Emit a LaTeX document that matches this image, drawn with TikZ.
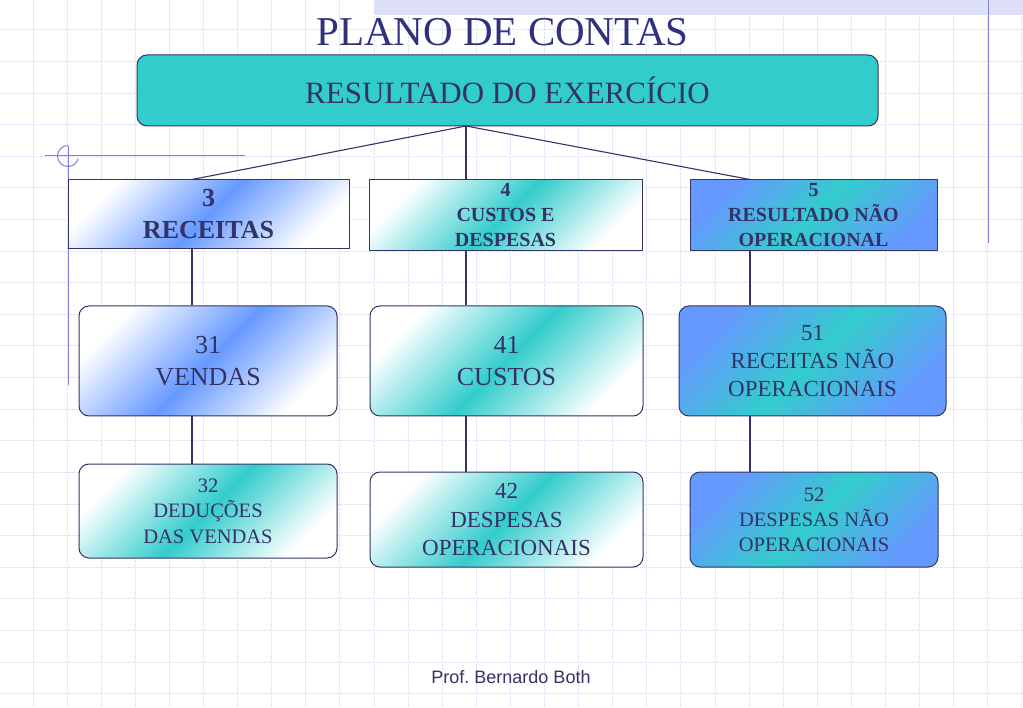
\documentclass[tikz,border=0pt]{standalone}
\usepackage{fontspec}
\setmainfont{Liberation Serif}
\newfontfamily\footfont{Liberation Sans}
\usepackage{tikz}
\usetikzlibrary{patterns}

\definecolor{navy}{RGB}{51,51,102}
\definecolor{titleblue}{RGB}{48,48,128}
\definecolor{turq}{RGB}{51,204,204}
\definecolor{azul}{RGB}{102,153,255}
\definecolor{gridcol}{RGB}{226,226,244}
\definecolor{decor}{RGB}{128,128,224}
\definecolor{bandcol}{RGB}{218,222,246}

\begin{document}
\begin{tikzpicture}[
    x=1pt, y=-1pt,
    gridline/.style={gridcol, line width=1pt, dash pattern=on 3pt off 1pt},
    decorline/.style={decor, line width=1pt},
    grupo/.style={draw=navy, line width=1pt, inner sep=0pt, align=center, text=navy,
      font=\bfseries\fontsize{20}{25}\selectfont},
    conta/.style={grupo, rounded corners=10pt, font=\fontsize{26}{32}\selectfont},
    whiteblue/.style={top color=white, bottom color=white, middle color=azul, shading angle=45},
    whiteturq/.style={top color=white, bottom color=white, middle color=turq, shading angle=45},
    blueturq/.style={top color=azul, bottom color=azul, middle color=turq, shading angle=45},
    conn/.style={navy, line width=1.1pt}
    ]
    \useasboundingbox (0,0) rectangle (1023,708);
    \fill[white] (0,0) rectangle (1023,708);

    % background grid
    \foreach \gx in {0,...,29}
      \draw[gridline] ({33+34.1*\gx},0) -- ({33+34.1*\gx},708);
    \foreach \gy in {0,...,21}
      \draw[gridline] (0,{30+31.6*\gy}) -- (1023,{30+31.6*\gy});

    % slide decoration
    \fill[bandcol] (374,0) rectangle (1023,15);
    \fill[pattern=dots, pattern color=white] (374,0) rectangle (1023,15);
    \draw[decorline] (988,0) -- (988,243);
    \draw[decorline] (45,156) -- (245,156);
    \draw[decorline] (68,146) -- (68,385);
    \draw[decorline] (68,145.5) arc[start angle=270, end angle=15, radius=10.5];

    \node[text=titleblue, font=\fontsize{41}{48}\selectfont] (titulo) at (502.5,32) {PLANO DE CONTAS};

    \node[draw=navy, line width=1pt, rounded corners=10pt, fill=turq, text=navy,
      minimum width=741pt, minimum height=71pt, font=\fontsize{31}{36}\selectfont]
      (res) at (507.5,90.5) {RESULTADO DO EXERCÍCIO};

    \node[grupo, whiteblue, minimum width=281pt, minimum height=69pt,
      font=\bfseries\fontsize{26}{32}\selectfont] (rec) at (208.5,214.5) {3\\RECEITAS};
    \node[grupo, whiteturq, minimum width=273pt, minimum height=71pt] (cus) at (505.5,215.5) {4\\CUSTOS E\\DESPESAS};
    \node[grupo, blueturq, minimum width=247pt, minimum height=71pt] (rnop) at (813.5,215.5) {5\\RESULTADO NÃO\\OPERACIONAL};

    \node[conta, whiteblue, minimum width=258pt, minimum height=110pt] (ven) at (208,361) {31\\VENDAS};
    \node[conta, whiteturq, minimum width=273pt, minimum height=110pt] (cst) at (506.5,361) {41\\CUSTOS};
    \node[conta, blueturq, minimum width=267pt, minimum height=110pt,
      font=\fontsize{23}{28}\selectfont] (recnop) at (812.5,361) {51\\RECEITAS NÃO\\OPERACIONAIS};

    \node[conta, whiteturq, minimum width=258pt, minimum height=94pt,
      font=\fontsize{20.5}{25.5}\selectfont] (ded) at (208,511) {32\\DEDUÇÕES\\DAS VENDAS};
    \node[conta, whiteturq, minimum width=273pt, minimum height=95pt,
      font=\fontsize{23}{28.5}\selectfont] (desp) at (506.5,519.5) {42\\DESPESAS\\OPERACIONAIS};
    \node[conta, blueturq, minimum width=248pt, minimum height=95pt,
      font=\fontsize{20.5}{25}\selectfont] (despnop) at (814,519.5) {52\\DESPESAS NÃO\\OPERACIONAIS};

    \node[text=navy, font=\footfont\fontsize{18}{21}\selectfont] (autor) at (511,677) {Prof.\ Bernardo Both};

    \coordinate (hub) at (466,126);
    \coordinate (c1) at (192,0);
    \coordinate (c3) at (750,0);

    \path[conn] (hub) edge (rec.north -| c1)
    (hub) edge (cus.north -| hub)
    (hub) edge (rnop.north -| c3)
    (rec.south -| c1) edge (ven.north -| c1)
    (ven.south -| c1) edge (ded.north -| c1)
    (cus.south -| hub) edge (cst.north -| hub)
    (cst.south -| hub) edge (desp.north -| hub)
    (rnop.south -| c3) edge (recnop.north -| c3)
    (recnop.south -| c3) edge (despnop.north -| c3)
    ;

  \end{tikzpicture}
\end{document}
